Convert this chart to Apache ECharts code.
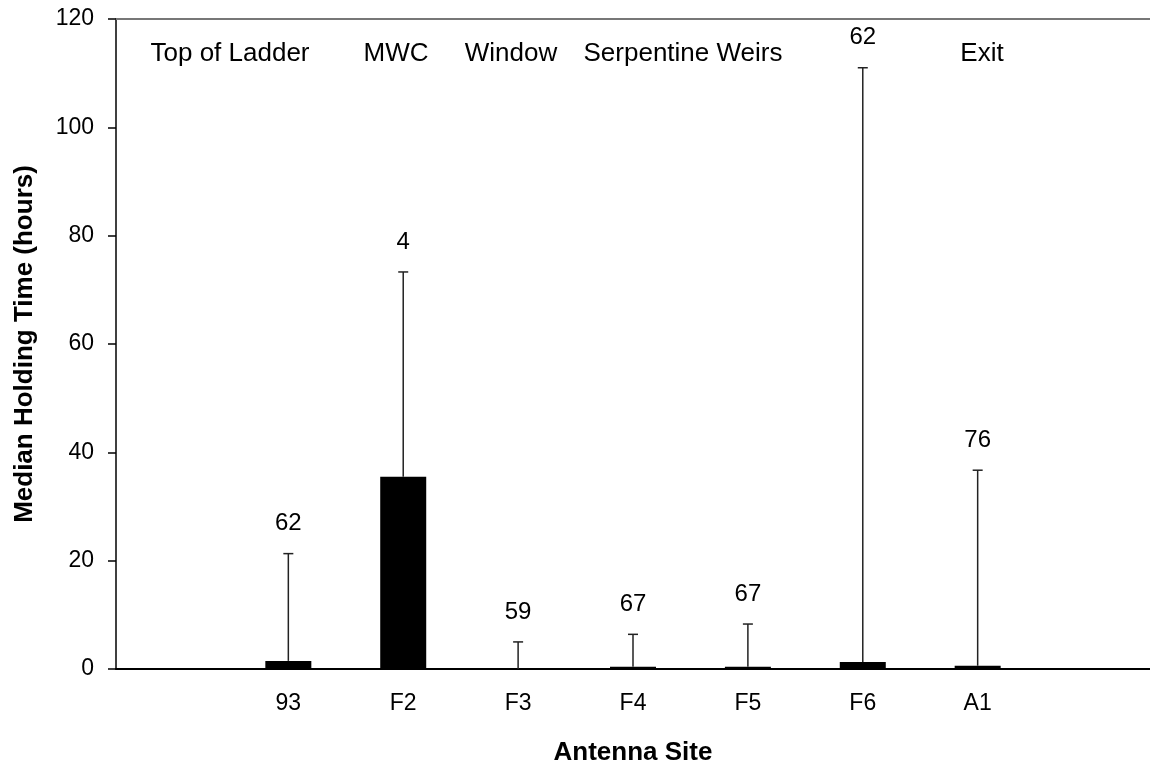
<!DOCTYPE html>
<html>
<head>
<meta charset="utf-8">
<script src="https://cdn.jsdelivr.net/npm/echarts@6/dist/echarts.min.js"></script>
<style>
html,body{margin:0;padding:0;background:#fff;}
#chart{width:1150px;height:771px;}
</style>
</head>
<body>
<div id="chart"></div>
<script>
// ---- data ----
var categories = [' ', '93', 'F2', 'F3', 'F4', 'F5', 'F6', 'A1', '  '];
var sites = ['93', 'F2', 'F3', 'F4', 'F5', 'F6', 'A1'];
var medians = [1.5, 35.5, 0, 0.4, 0.4, 1.3, 0.6];
var upper = [21.3, 73.3, 5.0, 6.4, 8.3, 111, 36.7];
var counts = ['62', '4', '59', '67', '67', '62', '76'];
var yTicks = [0, 20, 40, 60, 80, 100, 120];
var regionLabels = ['Top of Ladder', 'MWC', 'Window', 'Serpentine Weirs', 'Exit'];
var regionLabelX = [230, 396, 511, 683, 982];

var FONT = 'Liberation Sans, Arial, sans-serif';
var chart = echarts.init(document.getElementById('chart'), null, {renderer: 'canvas'});

var barData = sites.map(function (s, i) { return [s, medians[i]]; });
var whiskerData = sites.map(function (s, i) { return [s, medians[i], upper[i], counts[i]]; });

var option = {
  animation: false,
  backgroundColor: '#ffffff',
  grid: {left: 116, right: 0, top: 19, bottom: 100, containLabel: false},
  xAxis: [{
    type: 'category',
    data: categories,
    position: 'bottom',
    axisLine: {show: true, lineStyle: {color: '#000', width: 2}},
    axisTick: {show: false},
    axisLabel: {color: '#000', fontFamily: FONT, fontSize: 23, margin: 23, interval: 0},
    name: 'Antenna Site',
    nameLocation: 'middle',
    nameGap: 71,
    nameTextStyle: {color: '#000', fontFamily: FONT, fontSize: 26, fontWeight: 'bold'}
  }, {
    type: 'category',
    data: categories,
    position: 'top',
    axisLine: {show: true, lineStyle: {color: '#777', width: 2}},
    axisTick: {show: false},
    axisLabel: {show: false}
  }],
  yAxis: {
    type: 'value',
    min: 0, max: 120, interval: 20,
    axisLine: {show: true, lineStyle: {color: '#000', width: 1.5}},
    axisTick: {show: true, inside: false, length: 8, lineStyle: {color: '#000', width: 1.5}},
    axisLabel: {color: '#000', fontFamily: FONT, fontSize: 23, margin: 22,
      formatter: function (v) { return yTicks.indexOf(v) >= 0 ? String(v) : ''; }},
    splitLine: {show: false},
    name: 'Median Holding Time (hours)',
    nameLocation: 'middle',
    nameGap: 78,
    nameTextStyle: {color: '#000', fontFamily: FONT, fontSize: 26, fontWeight: 'bold'}
  },
  series: [{
    type: 'bar',
    data: barData,
    barWidth: 46,
    itemStyle: {color: '#000'},
    z: 3
  }, {
    type: 'custom',
    data: whiskerData,
    z: 4,
    renderItem: function (params, api) {
      var x = api.value(0);
      var p0 = api.coord([x, api.value(1)]);
      var p1 = api.coord([x, api.value(2)]);
      var n = whiskerData[params.dataIndex][3];
      var st = {stroke: '#222', lineWidth: 1.5};
      return {
        type: 'group',
        children: [
          {type: 'line', shape: {x1: p0[0], y1: p0[1], x2: p1[0], y2: p1[1]}, style: st},
          {type: 'line', shape: {x1: p1[0] - 5, y1: p1[1], x2: p1[0] + 5, y2: p1[1]}, style: st},
          {type: 'text', x: p1[0], y: p1[1] - 30,
            style: {text: n, fill: '#000', font: '24px ' + FONT, textAlign: 'center', textVerticalAlign: 'middle'}}
        ]
      };
    }
  }],
  graphic: regionLabels.map(function (t, i) {
    return {
      type: 'text', x: regionLabelX[i], y: 54, z: 10,
      style: {text: t, fill: '#000', font: '26px ' + FONT, textAlign: 'center', textVerticalAlign: 'middle'}
    };
  })
};
chart.setOption(option);
</script>
</body>
</html>
